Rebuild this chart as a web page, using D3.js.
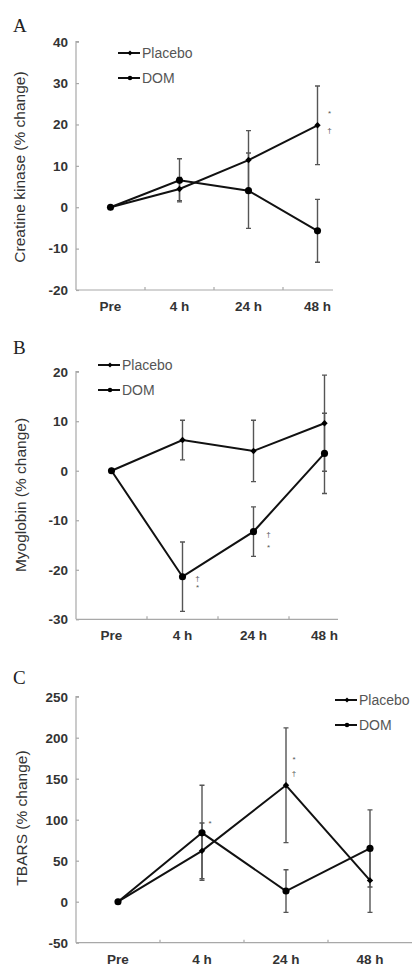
<!DOCTYPE html>
<html><head><meta charset="utf-8">
<script src="https://cdn.jsdelivr.net/npm/d3@7"></script>
<style>
html,body{margin:0;padding:0;background:#fff;}
svg{display:block;font-family:"Liberation Sans",Arial,sans-serif;}
</style></head>
<body>
<svg id="c" width="414" height="967"></svg>
<script>
// ---- data ----
const categories = ["Pre", "4 h", "24 h", "48 h"];
const seriesNames = ["Placebo", "DOM"];

// Panel A: Creatine kinase (% change)
const ckPlacebo = [0, 4.4, 11.4, 19.8];
const ckPlaceboErr = [0, 2.8, 7.1, 9.5];
const ckDOM = [0, 6.5, 4.0, -5.7];
const ckDOMErr = [0, 5.2, 9.1, 7.6];
const ckTicks = [-20, -10, 0, 10, 20, 30, 40];

// Panel B: Myoglobin (% change)
const mbPlacebo = [0, 6.2, 4.0, 9.6];
const mbPlaceboErr = [0, 4.0, 6.2, 9.7];
const mbDOM = [0, -21.4, -12.3, 3.5];
const mbDOMErr = [0, 7.0, 5.0, 8.1];
const mbTicks = [-30, -20, -10, 0, 10, 20];

// Panel C: TBARS (% change)
const tbPlacebo = [0, 62, 142, 26];
const tbPlaceboErr = [0, 34, 70, 39];
const tbDOM = [0, 84, 13, 65];
const tbDOMErr = [0, 58, 26, 47];
const tbTicks = [-50, 0, 50, 100, 150, 200, 250];

// significance marks: [category, y value, symbol]
const ckMarks = [["48 h", 22.8, "*"], ["48 h", 18.7, "†"]];
const mbMarks = [["4 h", -21.6, "†"], ["4 h", -23.5, "*"], ["24 h", -12.8, "†"], ["24 h", -15.4, "*"]];
const tbMarks = [["4 h", 96, "*"], ["24 h", 174, "*"], ["24 h", 157, "†"]];

// ---- drawing ----
const svg = d3.select("#c");

function panel(cfg) {
  const g = svg.append("g");
  const x = d3.scaleBand().domain(categories).range([cfg.x0, cfg.x1]).padding(0);
  const y = d3.scaleLinear().domain(cfg.domain).range([cfg.yBottom, cfg.yTop]);
  const cx = c => x(c) + x.bandwidth() / 2;

  // panel letter
  g.append("text").attr("x", 13).attr("y", cfg.letterY)
    .attr("font-family", "'Liberation Serif','Times New Roman',serif")
    .attr("font-size", 19).attr("fill", "#222").text(cfg.letter);

  // y axis
  const yAxis = d3.axisRight(y).tickValues(cfg.ticks).tickSize(3).tickFormat("");
  const ya = g.append("g").attr("transform", `translate(${cfg.x0},0)`).call(yAxis);
  ya.select(".domain").attr("stroke", "#a8a8a8").attr("stroke-width", 1.2).attr("d", `M3,${cfg.yTop}H0V${cfg.yBottom}`);
  ya.selectAll(".tick line").attr("stroke", "#a8a8a8").attr("stroke-width", 1.2);
  g.selectAll(".ylab").data(cfg.ticks).join("text")
    .attr("x", cfg.x0 - 8).attr("y", d => y(d)).attr("dy", "0.36em")
    .attr("text-anchor", "end").attr("font-size", 13.5).attr("font-weight", "bold")
    .attr("fill", "#333").text(d => d);

  // x axis
  g.append("line").attr("x1", cfg.x0).attr("x2", cfg.xAxisEnd)
    .attr("y1", cfg.yBottom).attr("y2", cfg.yBottom)
    .attr("stroke", "#a8a8a8").attr("stroke-width", 1.2);
  g.selectAll(".xtick").data(categories.slice(1)).join("line")
    .attr("x1", d => x(d)).attr("x2", d => x(d))
    .attr("y1", cfg.yBottom).attr("y2", cfg.yBottom - 3)
    .attr("stroke", "#a8a8a8").attr("stroke-width", 1.2);
  g.selectAll(".xlab").data(categories).join("text")
    .attr("x", d => cx(d)).attr("y", cfg.yBottom + 16).attr("dy", "0.36em")
    .attr("text-anchor", "middle").attr("font-size", 13.5).attr("font-weight", "bold")
    .attr("fill", "#333").text(d => d);

  // y title
  g.append("text").attr("transform", `translate(${cfg.titleX},${cfg.titleY}) rotate(-90)`)
    .attr("text-anchor", "middle").attr("dy", "0.36em").attr("font-size", 15.5)
    .attr("fill", "#333").text(cfg.title);

  // error bars
  const series = cfg.series;
  series.forEach(s => {
    const eb = categories.map((c, i) => ({c, v: s.values[i], e: s.errs[i]})).filter(d => d.e > 0);
    g.selectAll(null).data(eb).join("path")
      .attr("d", d => {
        const X = cx(d.c), t = y(d.v + d.e), b = y(d.v - d.e);
        return `M${X},${t}V${b}M${X - 2.5},${t}H${X + 2.5}M${X - 2.5},${b}H${X + 2.5}`;
      })
      .attr("fill", "none").attr("stroke", "#555").attr("stroke-width", 1.4);
  });

  // lines and markers
  const line = d3.line().x((d, i) => cx(categories[i])).y(d => y(d));
  series.forEach(s => {
    g.append("path").attr("d", line(s.values)).attr("fill", "none")
      .attr("stroke", "#111").attr("stroke-width", 2);
    g.selectAll(null).data(s.values).join("path")
      .attr("transform", (d, i) => `translate(${cx(categories[i])},${y(d)})`)
      .attr("d", d3.symbol().type(s.symbol).size(s.symbol === d3.symbolCircle ? 40 : 26)())
      .attr("fill", "#000");
  });

  // marks
  g.selectAll(".mark").data(cfg.marks).join("text")
    .attr("x", d => cx(d[0]) + cfg.markDx).attr("y", d => y(d[1])).attr("dy", "0.36em")
    .attr("text-anchor", "middle").attr("font-size", 8).attr("fill", "#555").text(d => d[2]);

  // legend
  const lg = g.append("g");
  series.forEach((s, i) => {
    const ly = cfg.legY + i * 25;
    lg.append("line").attr("x1", cfg.legX).attr("x2", cfg.legX + 22).attr("y1", ly).attr("y2", ly)
      .attr("stroke", "#111").attr("stroke-width", 2);
    lg.append("path").attr("transform", `translate(${cfg.legX + 12},${ly})`)
      .attr("d", d3.symbol().type(s.symbol).size(16)()).attr("fill", "#000");
    lg.append("text").attr("x", cfg.legX + 24).attr("y", ly).attr("dy", "0.36em")
      .attr("font-size", 14).attr("fill", "#555").text(s.name);
  });
}

panel({
  letter: "A", letterY: 32, domain: [-20, 40], ticks: ckTicks,
  x0: 76, x1: 352, xAxisEnd: 333, yTop: 41.7, yBottom: 290,
  title: "Creatine kinase (% change)", titleX: 19, titleY: 167,
  legX: 118, legY: 53, markDx: 12, marks: ckMarks,
  series: [
    {name: seriesNames[0], values: ckPlacebo, errs: ckPlaceboErr, symbol: d3.symbolDiamond2},
    {name: seriesNames[1], values: ckDOM, errs: ckDOMErr, symbol: d3.symbolCircle}
  ]
});

panel({
  letter: "B", letterY: 354, domain: [-30, 20], ticks: mbTicks,
  x0: 76, x1: 360, xAxisEnd: 338, yTop: 371.7, yBottom: 619.3,
  title: "Myoglobin (% change)", titleX: 20, titleY: 495,
  legX: 98, legY: 365, markDx: 15, marks: mbMarks,
  series: [
    {name: seriesNames[0], values: mbPlacebo, errs: mbPlaceboErr, symbol: d3.symbolDiamond2},
    {name: seriesNames[1], values: mbDOM, errs: mbDOMErr, symbol: d3.symbolCircle}
  ]
});

panel({
  letter: "C", letterY: 684, domain: [-50, 250], ticks: tbTicks,
  x0: 76, x1: 412, xAxisEnd: 412, yTop: 696.7, yBottom: 942.7,
  title: "TBARS (% change)", titleX: 21, titleY: 818,
  legX: 335, legY: 700, markDx: 8, marks: tbMarks,
  series: [
    {name: seriesNames[0], values: tbPlacebo, errs: tbPlaceboErr, symbol: d3.symbolDiamond2},
    {name: seriesNames[1], values: tbDOM, errs: tbDOMErr, symbol: d3.symbolCircle}
  ]
});
</script>
</body></html>
